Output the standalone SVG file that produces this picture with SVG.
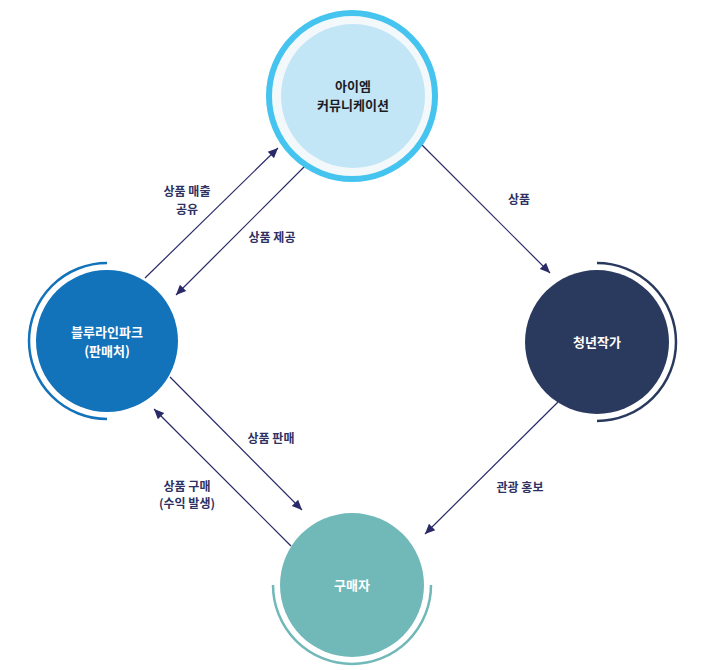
<svg xmlns="http://www.w3.org/2000/svg" width="705" height="670" viewBox="0 0 705 670">
<defs>
<marker id="ah" viewBox="0 0 10 10" refX="10" refY="5" markerWidth="10" markerHeight="10" markerUnits="userSpaceOnUse" orient="auto">
<path d="M0,0.5 L10,5 L0,9.5 Z" fill="#2B2A68"/>
</marker>
<style>
.lbl{font-family:"Noto Sans CJK KR","Noto Sans",sans-serif;font-size:12px;font-weight:700;fill:#2E3163;text-anchor:middle}
.ntx{font-family:"Noto Sans CJK KR","Noto Sans",sans-serif;font-size:13px;font-weight:700;text-anchor:middle}
.edge{stroke:#2B2A68;stroke-width:1.2;fill:none;marker-end:url(#ah)}
</style>
</defs>
<rect width="705" height="670" fill="#FFFFFF"/>
<g id="connectors">
<line class="edge" x1="145" y1="278" x2="278" y2="148"/>
<line class="edge" x1="307" y1="164" x2="176" y2="295"/>
<line class="edge" x1="420" y1="143" x2="550" y2="273"/>
<line class="edge" x1="170" y1="377" x2="302" y2="510"/>
<line class="edge" x1="291" y1="546" x2="154" y2="409"/>
<line class="edge" x1="558" y1="402" x2="425" y2="534"/>
<text class="lbl" x="187" y="196">상품 매출</text>
<text class="lbl" x="187" y="213.5">공유</text>
<text class="lbl" x="272" y="242">상품 제공</text>
<text class="lbl" x="519" y="204">상품</text>
<text class="lbl" x="271" y="443">상품 판매</text>
<text class="lbl" x="187" y="490.5">상품 구매</text>
<text class="lbl" x="187" y="508">(수익 발생)</text>
<text class="lbl" x="520" y="492">관광 홍보</text>
</g>
<g id="node-iem">
<circle cx="352" cy="96" r="83" fill="#F3F8FA" stroke="#45C4EF" stroke-width="6"/>
<circle cx="353" cy="96" r="72" fill="#C3E6F6"/>
<text class="ntx" x="353" y="91" fill="#1C1C24">아이엠</text>
<text class="ntx" x="353" y="110" fill="#1C1C24">커뮤니케이션</text>
</g>
<g id="node-blueline">
<path d="M107,263 A78,78 0 0 0 107,419" fill="none" stroke="#1272BA" stroke-width="2.5"/>
<circle cx="107" cy="341" r="71" fill="#1272BA"/>
<text class="ntx" x="107" y="337" fill="#FFFFFF">블루라인파크</text>
<text class="ntx" x="107" y="356" fill="#FFFFFF">(판매처)</text>
</g>
<g id="node-artist">
<path d="M597,263 A79,79 0 0 1 597,421" fill="none" stroke="#2A3A5E" stroke-width="2.5"/>
<circle cx="597" cy="342" r="72" fill="#2A3A5E"/>
<text class="ntx" x="597" y="347" fill="#FFFFFF">청년작가</text>
</g>
<g id="node-buyer">
<path d="M273,585 A79,79 0 0 0 431,585" fill="none" stroke="#71B8B8" stroke-width="2.5"/>
<circle cx="352" cy="585" r="72" fill="#71B8B8"/>
<text class="ntx" x="352" y="590" fill="#FFFFFF">구매자</text>
</g>
</svg>
